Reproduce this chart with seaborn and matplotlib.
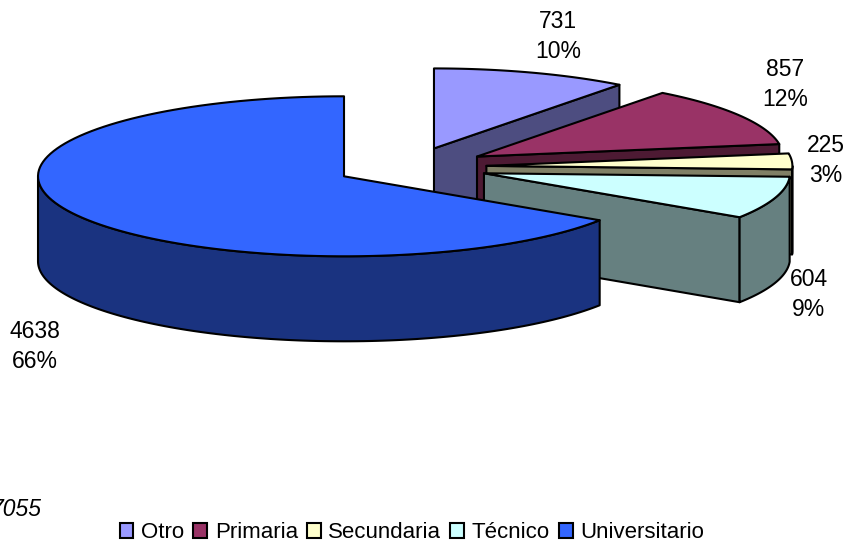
import numpy as np
import matplotlib
matplotlib.use("Agg")
import matplotlib.pyplot as plt
from matplotlib.patches import Patch
import seaborn as sns

categories = ["Otro", "Primaria", "Secundaria", "Técnico", "Universitario"]
values = [731, 857, 225, 604, 4638]
percents = ["10%", "12%", "3%", "9%", "66%"]
total_label = "7055"

top_colors = ["#9999FF", "#993366", "#FFFFCC", "#CCFFFF", "#3366FF"]
side_colors = ["#4D4D80", "#4D1A33", "#808066", "#668080", "#1A3380"]
explode = [0.245, 0.255, 0.25, 0.254, 0.245]
# donde va cada etiqueta (en pixeles)
label_pos = [(558, 36), (785, 85), (826, 160), (809, 295), (35, 346)]

sns.set_theme(style="white")
plt.rcParams["font.family"] = ["Liberation Sans", "DejaVu Sans"]

# geometria del pastel en pixeles
cx, cy = 410, 167
rx, ry = 306, 80
depth = 85
lw = 1.5


def rim(a, b, x0, y0):
    t = np.radians(np.linspace(a, b, 120))
    return x0 + rx * np.sin(t), y0 - ry * np.cos(t)


fig = plt.figure(figsize=(8.49, 5.45), dpi=100)
ax = fig.add_axes([0, 0, 1, 1])
ax.set_xlim(0, 849)
ax.set_ylim(545, 0)
ax.axis("off")
sns.despine(ax=ax, left=True, bottom=True)

shares = np.array(values) / sum(values) * 360
ends = np.cumsum(shares)
starts = ends - shares

for i in range(len(values)):
    a, b = starts[i], ends[i]
    mid = np.radians((a + b) / 2)
    x0 = cx + explode[i] * rx * np.sin(mid)
    y0 = cy - explode[i] * ry * np.cos(mid)
    edge = dict(edgecolor="black", linewidth=lw, joinstyle="round")

    # pared del corte
    if b < 180:
        xe, ye = rim(b, b, x0, y0)
        ax.fill([x0, xe[0], xe[0], x0], [y0, ye[0], ye[0] + depth, y0 + depth],
                facecolor=side_colors[i], **edge)

    # pared exterior, solo la parte de adelante
    lo, hi = max(a, 90), min(b, 270)
    if lo < hi:
        xw, yw = rim(lo, hi, x0, y0)
        ax.fill(np.r_[xw, xw[::-1]], np.r_[yw, yw[::-1] + depth],
                facecolor=side_colors[i], **edge)

    # cara de arriba
    xt, yt = rim(a, b, x0, y0)
    ax.fill(np.r_[x0, xt], np.r_[y0, yt], facecolor=top_colors[i], **edge)

    lx, ly = label_pos[i]
    ax.text(lx, ly - 15, str(values[i]), ha="center", va="center", fontsize=16.5, color="black")
    ax.text(lx, ly + 15, percents[i], ha="center", va="center", fontsize=16.5, color="black")

ax.text(42, 510, total_label, ha="right", va="center", fontsize=16.5, style="italic", color="black")

handles = [Patch(facecolor=c, edgecolor="black", linewidth=1.5) for c in top_colors]
fig.legend(handles, categories, ncol=5, loc="center", bbox_to_anchor=(412 / 849, 1 - 533 / 545),
           frameon=False, fontsize=16, handlelength=0.62, handleheight=0.62,
           handletextpad=0.35, columnspacing=0.4, borderpad=0, labelcolor="black")

fig.savefig("out.png", dpi=100)
